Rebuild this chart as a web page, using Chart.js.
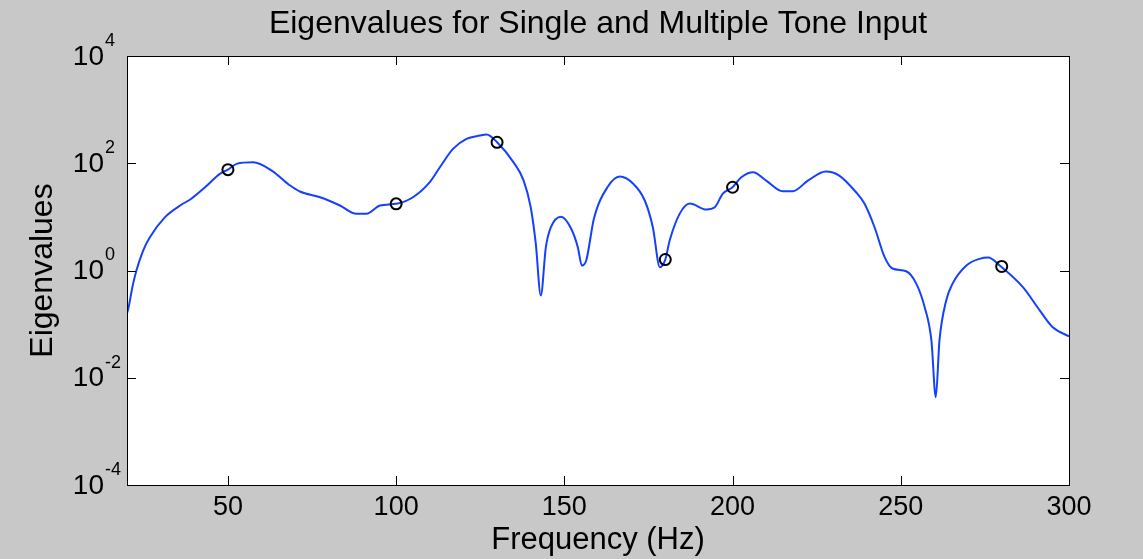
<!DOCTYPE html>
<html>
<head>
<meta charset="utf-8">
<script src="https://cdn.jsdelivr.net/npm/chart.js@4"></script>
<style>
  html, body { margin: 0; padding: 0; background: #c8c8c8; }
  #wrap { width: 1143px; height: 559px; }
</style>
</head>
<body>
<div id="wrap"><canvas id="c" width="1143" height="559"></canvas></div>
<script>
// ---- Data ----
const freq = [20, 20.4, 21.7, 22.8, 24.8, 26.8, 31.3, 35.8, 39.2, 43.2, 47.6, 50, 52.6, 57.5, 63, 68.5, 71.4, 77.4, 83.3, 88.2, 91.2, 95.2, 100, 105, 110, 113, 116.9, 120.9, 124.9, 126.9, 130, 134.9, 137.9, 140, 141.5, 143, 144.5, 146, 149, 152, 154, 155.2, 156.5, 158.8, 162.8, 166.5, 170.4, 173.9, 176.3, 178.4, 180, 181.3, 184.3, 187.3, 192.2, 194.7, 197.1, 200, 202.6, 206.1, 210, 214.9, 217.9, 222.5, 227.7, 231.7, 236.7, 239.2, 242.2, 245.2, 247.5, 251.6, 254.6, 257.1, 259.1, 260.4, 261.5, 263.5, 265.4, 269.5, 273.4, 276, 279.4, 286.3, 291.3, 295.1, 300];
const eig  = [0.16, 0.196, 0.525, 1.0, 2.36, 4.18, 9.9, 16.3, 22, 35.7, 63.4, 76.3, 97.5, 104, 73, 38.4, 29.7, 23.2, 16.3, 11.4, 11.4, 16.3, 17.5, 23.2, 44.3, 84.2, 185, 285, 328, 343, 246, 104, 47.6, 15.1, 3.19, 0.342, 2.72, 6.41, 10.1, 6.07, 2.72, 1.24, 1.54, 9.3, 35.7, 56.5, 41.8, 20.2, 6.41, 1.15, 1.6, 3.62, 11.5, 17.7, 13.7, 15.1, 27.2, 35.7, 54.8, 67.9, 47.6, 30.1, 30.1, 48, 70, 59, 28.8, 17.7, 6.41, 1.77, 1.09, 0.97, 0.57, 0.207, 0.0496, 0.00435, 0.0496, 0.276, 0.57, 1.24, 1.65, 1.75, 1.24, 0.489, 0.18, 0.088, 0.059];
const markerFreq = [50, 100, 130, 180, 200, 280];
const markerEig  = [76, 17.5, 246, 1.6, 35.7, 1.19];
const xTicks = [50, 100, 150, 200, 250, 300];
const yTickExps = [-4, -2, 0, 2, 4];

const titleText = 'Eigenvalues for Single and Multiple Tone Input';
const xTitle = 'Frequency (Hz)';
const yTitle = 'Eigenvalues';

const FONT = '"Liberation Sans", Arial, sans-serif';

const curve = freq.map((f, i) => ({ x: f, y: eig[i] }));
const markers = markerFreq.map((f, i) => ({ x: f, y: markerEig[i] }));

const boxPlugin = {
  id: 'matlabBox',
  beforeDraw(chart) {
    const { ctx, chartArea: a } = chart;
    ctx.save();
    ctx.fillStyle = '#c8c8c8';
    ctx.fillRect(0, 0, chart.width, chart.height);
    ctx.fillStyle = '#ffffff';
    ctx.fillRect(a.left, a.top, a.right - a.left, a.bottom - a.top);
    ctx.restore();
  },
  afterDraw(chart) {
    const { ctx, chartArea: a } = chart;
    const xs = chart.scales.x, ys = chart.scales.y;
    ctx.save();
    ctx.strokeStyle = '#000';
    ctx.lineWidth = 1;
    ctx.beginPath();
    const tl = 9;
    xTicks.forEach(v => {
      const px = Math.round(xs.getPixelForValue(v)) + 0.5;
      ctx.moveTo(px, a.bottom); ctx.lineTo(px, a.bottom - tl);
      ctx.moveTo(px, a.top); ctx.lineTo(px, a.top + tl);
    });
    yTickExps.forEach(e => {
      const py = Math.round(ys.getPixelForValue(Math.pow(10, e))) + 0.5;
      ctx.moveTo(a.left, py); ctx.lineTo(a.left + tl, py);
      ctx.moveTo(a.right, py); ctx.lineTo(a.right - tl, py);
    });
    ctx.stroke();
    ctx.strokeRect(Math.round(a.left) + 0.5, Math.round(a.top) + 0.5, Math.round(a.right - a.left), Math.round(a.bottom - a.top));
    ctx.fillStyle = '#000';
    // title centered over the axes box
    ctx.font = '32px ' + FONT;
    ctx.textAlign = 'center';
    ctx.textBaseline = 'alphabetic';
    ctx.fillText(titleText, (a.left + a.right) / 2, 33);
    // y tick labels with superscript exponents
    ctx.textBaseline = 'middle';
    yTickExps.forEach(e => {
      const py = ys.getPixelForValue(Math.pow(10, e));
      ctx.font = '28px ' + FONT;
      ctx.textAlign = 'right';
      ctx.fillText('10', a.left - 23, py + 1);
      ctx.font = '18px ' + FONT;
      ctx.textAlign = 'left';
      ctx.fillText(String(e), a.left - 22, py - 15);
    });
    ctx.restore();
  }
};

new Chart(document.getElementById('c'), {
  type: 'line',
  data: {
    datasets: [
      {
        label: 'Eigenvalues',
        data: curve,
        borderColor: '#1440ff',
        borderWidth: 2,
        pointRadius: 0,
        fill: false,
        cubicInterpolationMode: 'monotone',
        order: 2
      },
      {
        label: 'Tones',
        data: markers,
        showLine: false,
        pointStyle: 'circle',
        pointRadius: 5.5,
        pointBorderWidth: 2,
        pointBorderColor: '#000',
        pointBackgroundColor: 'rgba(0,0,0,0)',
        order: 1
      }
    ]
  },
  options: {
    responsive: false,
    animation: false,
    devicePixelRatio: 1,
    layout: { padding: { left: 0, right: 74, top: 56, bottom: 0 } },
    plugins: {
      legend: { display: false },
      tooltip: { enabled: false },
      title: { display: false }
    },
    scales: {
      x: {
        type: 'linear',
        min: 20,
        max: 300,
        afterBuildTicks: s => { s.ticks = xTicks.map(v => ({ value: v })); },
        afterFit: s => { s.height = 74; },
        grid: { display: false, drawTicks: false },
        border: { display: false },
        ticks: { color: '#000', font: { family: FONT, size: 27 }, padding: 6, maxRotation: 0 },
        title: {
          display: true, text: xTitle, color: '#000',
          font: { family: FONT, size: 31 }, padding: { top: 0, bottom: 0 }
        }
      },
      y: {
        type: 'logarithmic',
        min: 1e-4,
        max: 1e4,
        afterBuildTicks: s => { s.ticks = yTickExps.map(e => ({ value: Math.pow(10, e) })); },
        afterFit: s => { s.width = 127; },
        grid: { display: false, drawTicks: false },
        border: { display: false },
        ticks: { display: false },
        title: {
          display: true, text: yTitle, color: '#000',
          font: { family: FONT, size: 32 }, padding: { top: 24, bottom: 0 }
        }
      }
    }
  },
  plugins: [boxPlugin]
});
</script>
</body>
</html>
